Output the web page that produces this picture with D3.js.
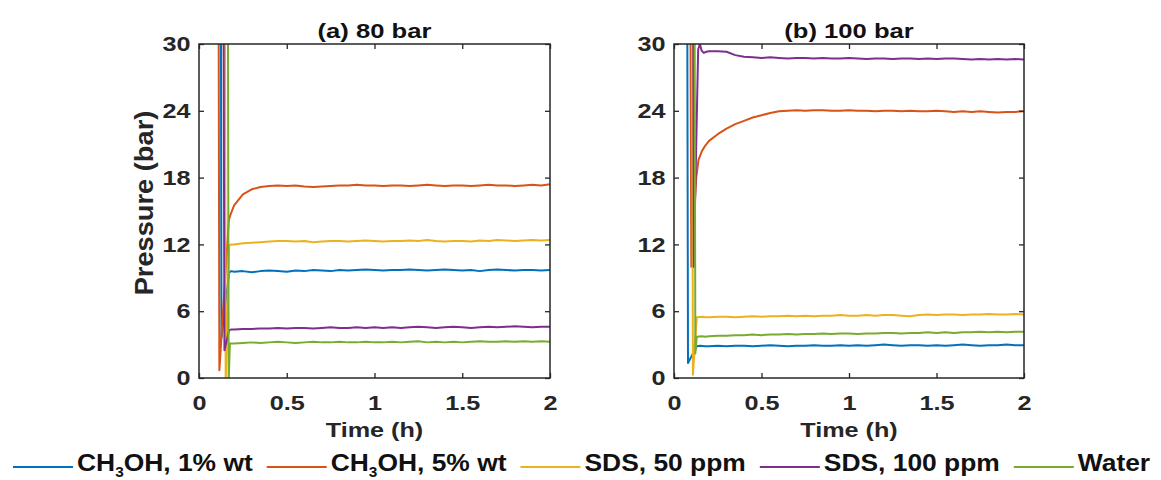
<!DOCTYPE html>
<html lang="en">
<head>
<meta charset="UTF-8">
<title>Pressure vs time</title>
<style>
    body {
        margin: 0;
        background: #fff;
    }
    svg text {
        font-family: "Liberation Sans", Arial, Helvetica, sans-serif;
        font-weight: bold;
        fill: #262626;
    }
</style>
</head>
<body>
<svg id="chart" width="1161" height="480"></svg>

<script src="https://cdn.jsdelivr.net/npm/d3@7"></script>
<script>
    // series order: CH3OH 1%, CH3OH 5%, SDS 50, SDS 100, Water
    const labels = ["CH_3OH, 1% wt", "CH_3OH, 5% wt", "SDS, 50 ppm", "SDS, 100 ppm", "Water"];
    const colors = ["#0072BD", "#D95319", "#EDB120", "#7E2F8E", "#77AC30"];
    const titles = ["(a) 80 bar", "(b) 100 bar"];
    const xTicks = [0, 0.5, 1, 1.5, 2];
    const yTicks = [0, 6, 12, 18, 24, 30];

    // time grid of the steady part (h)
    const hours = [0.2, 0.25, 0.3, 0.35, 0.4, 0.45, 0.5, 0.55, 0.6, 0.65,
        0.7, 0.75, 0.8, 0.85, 0.9, 0.95, 1, 1.05, 1.1, 1.15,
        1.2, 1.25, 1.3, 1.35, 1.4, 1.45, 1.5, 1.55, 1.6, 1.65,
        1.7, 1.75, 1.8, 1.85, 1.9, 1.95, 2];

    // (a) 80 bar : first drop, [h, bar]
    const onsetA = [
        [[0.125, 32], [0.128, 3.6], [0.172, 9.5], [0.185, 9.6]],
        [[0.112, 32], [0.116, 0.7], [0.17, 14.2], [0.18, 14.7], [0.19, 15.1]],
        [[0.148, 32], [0.152, -0.5], [0.172, 11.9], [0.185, 12.0]],
        [[0.14, 32], [0.145, 2.5], [0.172, 4.3], [0.185, 4.35]],
        [[0.165, 32], [0.169, -0.5], [0.176, 3.1], [0.185, 3.1]]
    ];
    const blueA = [9.55, 9.6, 9.5, 9.6, 9.65, 9.6, 9.55, 9.65, 9.6, 9.7, 9.65, 9.6, 9.7, 9.65, 9.7, 9.75, 9.7, 9.65, 9.7, 9.7,
        9.75, 9.7, 9.65, 9.7, 9.75, 9.7, 9.65, 9.7, 9.6, 9.7, 9.75, 9.7, 9.65, 9.7, 9.7, 9.65, 9.7];
    const orangeA = [15.5, 16.5, 16.95, 17.15, 17.25, 17.3, 17.25, 17.3, 17.2, 17.15, 17.2, 17.25, 17.3, 17.3, 17.35, 17.3, 17.3, 17.25, 17.3, 17.3,
        17.25, 17.3, 17.35, 17.3, 17.25, 17.3, 17.3, 17.25, 17.3, 17.35, 17.3, 17.3, 17.25, 17.3, 17.35, 17.3, 17.4];
    const yellowA = [12.0, 12.1, 12.15, 12.2, 12.25, 12.3, 12.3, 12.25, 12.3, 12.2, 12.25, 12.3, 12.3, 12.25, 12.3, 12.35, 12.3, 12.25, 12.3, 12.3,
        12.35, 12.3, 12.4, 12.3, 12.25, 12.3, 12.3, 12.25, 12.35, 12.3, 12.4, 12.35, 12.3, 12.35, 12.4, 12.35, 12.4];
    const purpleA = [4.35, 4.4, 4.4, 4.45, 4.45, 4.5, 4.45, 4.5, 4.5, 4.45, 4.5, 4.55, 4.5, 4.5, 4.55, 4.5, 4.55, 4.5, 4.55, 4.5,
        4.55, 4.6, 4.55, 4.5, 4.55, 4.6, 4.55, 4.5, 4.55, 4.6, 4.55, 4.6, 4.65, 4.6, 4.55, 4.6, 4.6];
    const greenA = [3.1, 3.15, 3.2, 3.15, 3.2, 3.25, 3.2, 3.15, 3.2, 3.25, 3.2, 3.2, 3.25, 3.2, 3.2, 3.25, 3.2, 3.2, 3.25, 3.2,
        3.25, 3.3, 3.2, 3.25, 3.2, 3.25, 3.2, 3.25, 3.3, 3.25, 3.25, 3.3, 3.25, 3.3, 3.25, 3.3, 3.25];

    // (b) 100 bar
    const onsetB = [
        [[0.076, 32], [0.08, 1.35], [0.13, 2.85], [0.15, 2.9], [0.175, 2.85]],
        [[0.094, 32], [0.099, 10.0], [0.127, 18.0], [0.14, 19.6], [0.16, 20.4], [0.18, 20.9]],
        [[0.104, 32], [0.108, 0.3], [0.13, 5.45], [0.16, 5.5], [0.18, 5.45]],
        [[0.11, 32], [0.113, 10], [0.138, 29.5], [0.148, 30.0], [0.158, 29.4], [0.17, 29.2], [0.185, 29.3]],
        [[0.118, 32], [0.122, 2.2], [0.13, 3.7], [0.16, 3.75], [0.18, 3.7]]
    ];
    const blueB = [2.85, 2.9, 2.85, 2.9, 2.9, 2.85, 2.9, 2.95, 2.9, 2.85, 2.9, 2.9, 2.95, 2.9, 2.9, 2.95, 2.9, 2.95, 2.9, 2.95,
        3.0, 2.95, 2.9, 2.95, 2.95, 2.9, 2.95, 2.9, 2.95, 3.0, 2.95, 2.9, 2.95, 2.95, 3.0, 2.95, 2.95];
    const orangeB = [21.3, 21.9, 22.4, 22.8, 23.1, 23.4, 23.6, 23.8, 23.95, 24.0, 24.05, 24.0, 24.05, 24.05, 24.0, 24.0, 24.05, 24.0, 24.0, 23.95,
        24.0, 24.0, 23.95, 24.0, 23.95, 23.95, 24.0, 23.95, 23.9, 23.95, 23.9, 23.95, 23.9, 23.85, 23.9, 23.9, 23.95];
    const yellowB = [5.45, 5.5, 5.5, 5.45, 5.5, 5.55, 5.5, 5.55, 5.55, 5.6, 5.55, 5.6, 5.55, 5.6, 5.6, 5.65, 5.6, 5.6, 5.65, 5.6,
        5.65, 5.65, 5.6, 5.55, 5.65, 5.7, 5.65, 5.7, 5.7, 5.65, 5.7, 5.7, 5.75, 5.7, 5.7, 5.75, 5.7];
    const purpleB = [29.35, 29.35, 29.3, 29.0, 28.85, 28.8, 28.75, 28.8, 28.75, 28.7, 28.75, 28.75, 28.7, 28.75, 28.7, 28.7, 28.75, 28.7, 28.65, 28.7,
        28.7, 28.65, 28.7, 28.7, 28.65, 28.7, 28.65, 28.7, 28.7, 28.65, 28.6, 28.65, 28.6, 28.65, 28.6, 28.65, 28.6];
    const greenB = [3.75, 3.8, 3.8, 3.85, 3.85, 3.9, 3.85, 3.9, 3.9, 3.95, 3.9, 3.95, 3.95, 4.0, 3.95, 4.0, 4.0, 3.95, 4.0, 4.0,
        4.05, 4.05, 4.0, 4.05, 4.05, 4.1, 4.05, 4.1, 4.05, 4.1, 4.1, 4.15, 4.1, 4.15, 4.1, 4.15, 4.15];

    const svg = d3.select("#chart");
    const top_ = 44, bottom = 378;
    const ink = "#262626";

    const panels = [
        {left: 199, right: 550, title: titles[0], onset: onsetA, steady: [blueA, orangeA, yellowA, purpleA, greenA]},
        {left: 674, right: 1024, title: titles[1], onset: onsetB, steady: [blueB, orangeB, yellowB, purpleB, greenB]}
    ];

    function styleAxis(g) {
        g.attr("font-family", null).attr("font-size", null);
        g.select(".domain").remove();
        g.selectAll(".tick line").attr("stroke", ink).attr("stroke-width", 1.3);
    }

    panels.forEach(function (p, i) {
        const x = d3.scaleLinear().domain([0, 2]).range([p.left, p.right]);
        const y = d3.scaleLinear().domain([0, 30]).range([bottom, top_]);
        const g = svg.append("g");

        g.append("clipPath").attr("id", "clip" + i)
            .append("rect")
            .attr("x", x(0)).attr("y", y(30))
            .attr("width", x(2) - x(0)).attr("height", y(0) - y(30));

        const line = d3.line().x(d => x(d[0])).y(d => y(d[1]));

        p.steady.forEach(function (vals, k) {
            const pts = p.onset[k].concat(hours.map((t, j) => [t, vals[j]]));
            g.append("path")
                .attr("clip-path", "url(#clip" + i + ")")
                .attr("d", line(pts))
                .attr("fill", "none")
                .attr("stroke", colors[k])
                .attr("stroke-width", 2)
                .attr("stroke-linejoin", "round");
        });

        // axes, ticks inside on all four sides
        g.append("g").attr("transform", "translate(0," + bottom + ")")
            .call(d3.axisBottom(x).tickValues(xTicks).tickFormat(d3.format(""))
                .tickSizeInner(-5).tickSizeOuter(0).tickPadding(17))
            .call(styleAxis)
            .selectAll(".tick text")
            .style("font-size", "21px")
            .attr("transform", "scale(1.2,1)");

        g.append("g").attr("transform", "translate(" + p.left + ",0)")
            .call(d3.axisLeft(y).tickValues(yTicks)
                .tickSizeInner(-5).tickSizeOuter(0).tickPadding(7))
            .call(styleAxis)
            .selectAll(".tick text")
            .style("font-size", "21px")
            .attr("transform", "scale(1.2,1)");

        g.append("g").attr("transform", "translate(0," + top_ + ")")
            .call(d3.axisTop(x).tickValues(xTicks).tickFormat("")
                .tickSizeInner(-5).tickSizeOuter(0))
            .call(styleAxis);

        g.append("g").attr("transform", "translate(" + p.right + ",0)")
            .call(d3.axisRight(y).tickValues(yTicks).tickFormat("")
                .tickSizeInner(-5).tickSizeOuter(0))
            .call(styleAxis);

        g.append("rect")
            .attr("x", x(0)).attr("y", y(30))
            .attr("width", x(2) - x(0)).attr("height", y(0) - y(30))
            .attr("fill", "none")
            .attr("stroke", ink)
            .attr("stroke-width", 1.5);

        // title
        g.append("text")
            .attr("transform", "translate(" + (x(0) + x(2)) / 2 + ",38) scale(1.28,1)")
            .attr("text-anchor", "middle")
            .style("font-size", "20px")
            .style("fill", "#111")
            .text(p.title);

        // x label
        g.append("text")
            .attr("transform", "translate(" + (x(0) + x(2)) / 2 + ",437) scale(1.2,1)")
            .attr("text-anchor", "middle")
            .style("font-size", "21px")
            .text("Time (h)");

        if (i === 0) {
            g.append("text")
                .attr("transform", "translate(153,203) rotate(-90) scale(1.09,1)")
                .attr("text-anchor", "middle")
                .style("font-size", "25px")
                .text("Pressure (bar)");
        }
    });

    // legend along the bottom
    const legend = svg.append("g");
    let lx = 13;
    const ly = 471, sx = 1.1;
    labels.forEach(function (lab, k) {
        const item = legend.append("g").attr("transform", "translate(" + lx + "," + ly + ")");
        item.append("line")
            .attr("x1", 0).attr("x2", 60)
            .attr("y1", -4).attr("y2", -4)
            .attr("stroke", colors[k])
            .attr("stroke-width", 2);
        const t = item.append("text")
            .attr("transform", "translate(64,0) scale(" + sx + ",1)")
            .style("font-size", "24px")
            .style("fill", "#111");
        const parts = lab.split("_");
        if (parts.length === 1) {
            t.text(lab);
        } else {
            t.append("tspan").text(parts[0]);
            t.append("tspan").attr("dy", 6).style("font-size", "14px").text(parts[1].charAt(0));
            t.append("tspan").attr("dy", -6).text(parts[1].slice(1));
        }
        lx += 64 + t.node().getComputedTextLength() * sx + 14;
    });
</script>
</body>
</html>
